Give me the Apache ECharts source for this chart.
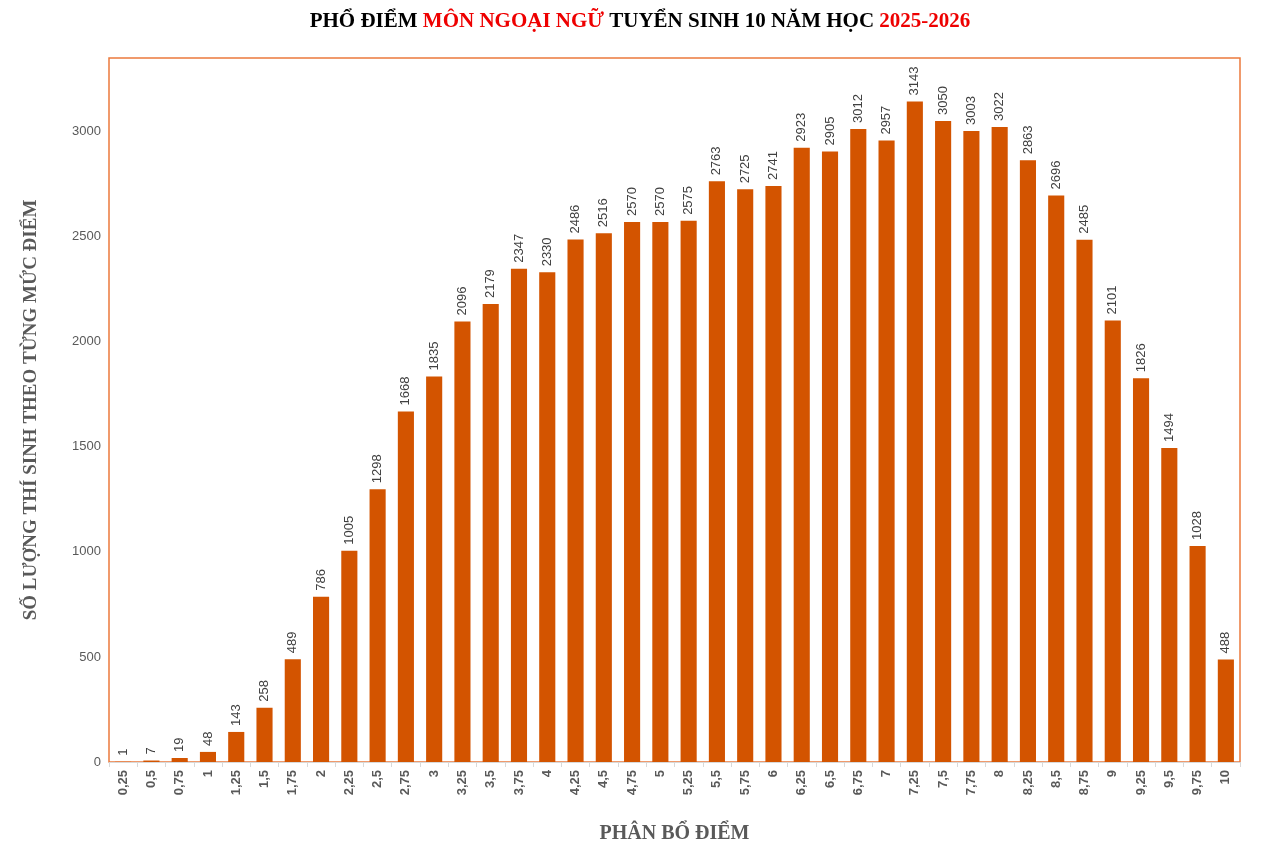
<!DOCTYPE html>
<html><head><meta charset="utf-8">
<script src="https://cdn.jsdelivr.net/npm/echarts@6/dist/echarts.min.js"></script>
<style>html,body{margin:0;padding:0;background:#fff}#c{width:1280px;height:849px}</style>
</head><body><div id="c"></div>
<script>
// dữ liệu phổ điểm
var scores = ['0,25','0,5','0,75','1','1,25','1,5','1,75','2','2,25','2,5','2,75','3','3,25','3,5','3,75','4','4,25','4,5','4,75','5','5,25','5,5','5,75','6','6,25','6,5','6,75','7','7,25','7,5','7,75','8','8,25','8,5','8,75','9','9,25','9,5','9,75','10']
var counts = [1,7,19,48,143,258,489,786,1005,1298,1668,1835,2096,2179,2347,2330,2486,2516,2570,2570,2575,2763,2725,2741,2923,2905,3012,2957,3143,3050,3003,3022,2863,2696,2485,2101,1826,1494,1028,488]
var yTicks = [0,500,1000,1500,2000,2500,3000]

var chart = echarts.init(document.getElementById('c'))
var option = {
  animation: false,
  title: {
    text: '{b|PHỔ ĐIỂM }{r|MÔN NGOẠI NGỮ}{b| TUYỂN SINH 10 NĂM HỌC }{r|2025-2026}',
    left: 'center', top: 6,
    textStyle: {
      rich: {
        b: {fontFamily: 'Liberation Serif', fontWeight: 'bold', fontSize: 21, color: '#000'},
        r: {fontFamily: 'Liberation Serif', fontWeight: 'bold', fontSize: 21, color: '#ee0000'}
      }
    }
  },
  grid: {left: 109, right: 40, top: 58, bottom: 76, show: true, borderColor: '#ec7a3c', borderWidth: 1.5},
  xAxis: {
    type: 'category', data: scores,
    name: 'PHÂN BỔ ĐIỂM', nameLocation: 'middle', nameGap: 62,
    nameTextStyle: {fontFamily: 'Liberation Serif', fontWeight: 'bold', fontSize: 20, color: '#595959'},
    axisLine: {lineStyle: {color: '#d9d9d9'}},
    axisTick: {show: true, lineStyle: {color: '#d9d9d9'}},
    axisLabel: {rotate: 90, interval: 0, color: '#595959', fontWeight: 'bold', fontSize: 13, fontFamily: 'Liberation Sans'}
  },
  yAxis: {
    type: 'value', min: 0, max: 3350, interval: 500,
    name: 'SỐ LƯỢNG THÍ SINH THEO TỪNG MỨC ĐIỂM', nameLocation: 'middle', nameGap: 68,
    nameTextStyle: {fontFamily: 'Liberation Serif', fontWeight: 'bold', fontSize: 19, color: '#595959'},
    splitLine: {show: false},
    axisLine: {show: false},
    axisLabel: {color: '#595959', fontSize: 13, fontFamily: 'Liberation Sans',
      formatter: function (v) { return yTicks.indexOf(v) >= 0 ? v : '' }}
  },
  series: [{
    type: 'bar', data: counts, barWidth: '57%',
    itemStyle: {color: '#d35400'},
    label: {show: true, position: 'top', rotate: 90, align: 'left', verticalAlign: 'middle',
      distance: 6, color: '#404040', fontSize: 13, fontFamily: 'Liberation Sans'}
  }]
}
chart.setOption(option)
</script></body></html>
